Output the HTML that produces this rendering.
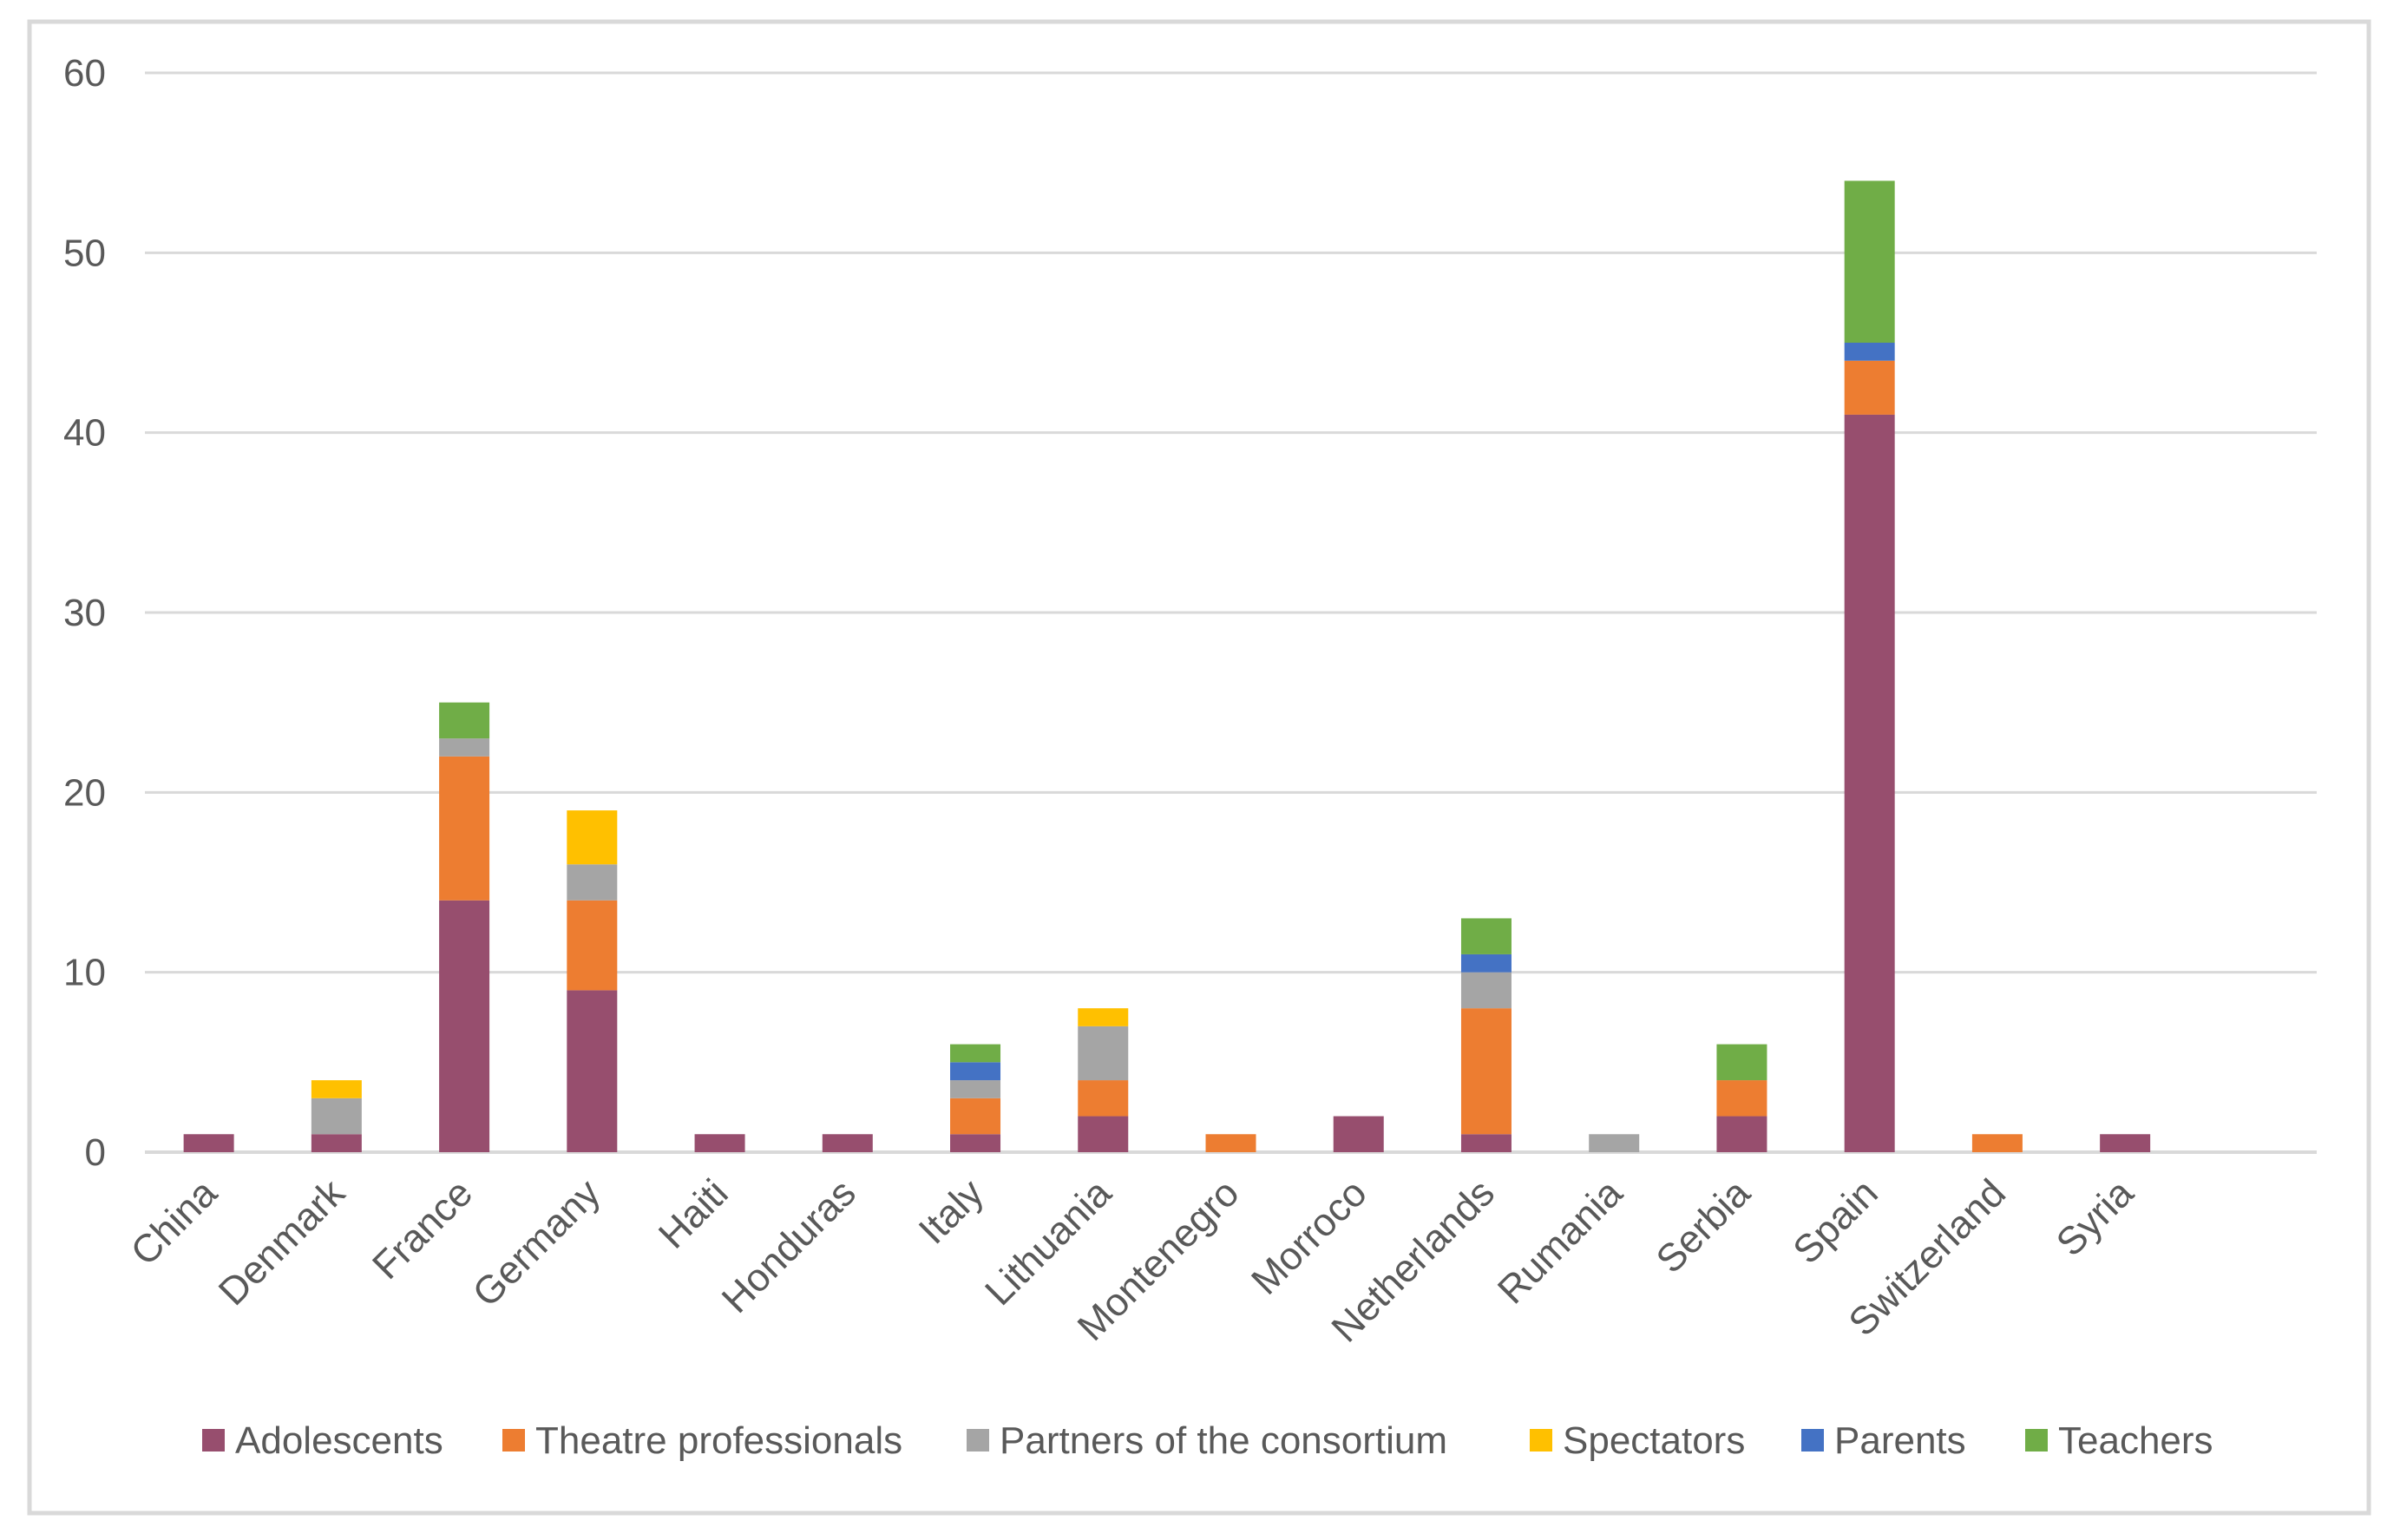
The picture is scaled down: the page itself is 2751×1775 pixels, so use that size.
<!DOCTYPE html>
<html><head><meta charset="utf-8"><style>
body{margin:0;background:#fff;}
svg text{font-family:"Liberation Sans",sans-serif;fill:#595959;}
</style></head><body>
<svg width="2751" height="1770" xmlns="http://www.w3.org/2000/svg">
<rect x="34" y="25" width="2696" height="1719" fill="#fff" stroke="#d9d9d9" stroke-width="5"/>
<g id="grid"></g><g id="bars"></g><g id="xlabels"></g><g id="legend"></g>
</svg>
<script>
const categories=["China","Denmark","France","Germany","Haiti","Honduras","Italy","Lithuania","Montenegro","Morroco","Netherlands","Rumania","Serbia","Spain","Switzerland","Syria"];
const seriesNames=["Adolescents","Theatre professionals","Partners of the consortium","Spectators","Parents","Teachers"];
const adolescents=[1,1,14,9,1,1,1,2,0,2,1,0,2,41,0,1];
const theatre=[0,0,8,5,0,0,2,2,1,0,7,0,2,3,1,0];
const partners=[0,2,1,2,0,0,1,3,0,0,2,1,0,0,0,0];
const spectators=[0,1,0,3,0,0,0,1,0,0,0,0,0,0,0,0];
const parents=[0,0,0,0,0,0,1,0,0,0,1,0,0,1,0,0];
const teachers=[0,0,2,0,0,0,1,0,0,0,2,0,2,9,0,0];
const yTicks=[0,10,20,30,40,50,60];
const colors=["#974e6e","#ed7d31","#a5a5a5","#ffc000","#4472c4","#70ad47"];
const series=[adolescents,theatre,partners,spectators,parents,teachers];
const NS="http://www.w3.org/2000/svg";
const x0=167,x1=2670,y0=1328,yTop=84,slots=17,bw=58;
const slot=(x1-x0)/slots;
const yS=v=>y0-(v/60)*(y0-yTop);
const xC=i=>x0+slot*(i+0.5);
function mk(tag,attrs,parent){const e=document.createElementNS(NS,tag);for(const k in attrs)e.setAttribute(k,attrs[k]);parent.appendChild(e);return e;}
const grid=document.getElementById('grid');
yTicks.forEach(t=>{
  const l=mk('line',{x1:x0,x2:x1,y1:yS(t),y2:yS(t),stroke:'#d9d9d9','stroke-width':t===0?4:3},grid);
  
  
  const tx=mk('text',{x:122,y:yS(t)+15,'text-anchor':'end','font-size':44},grid);
  tx.textContent=t;
  
  
});
const bars=document.getElementById('bars');
categories.forEach((c,i)=>{
  let cum=0;
  series.forEach((s,k)=>{
    const v=s[i]; if(!v) return;
    const r=mk('rect',{x:xC(i)-bw/2,y:yS(cum+v),width:bw,height:yS(cum)-yS(cum+v),fill:colors[k]},bars);
    
    
    cum+=v;
  });
  const t=mk('text',{x:xC(i)+12,y:1378,'text-anchor':'end','font-size':45,transform:`rotate(-45 ${xC(i)+12} 1378)`},document.getElementById('xlabels'));
  t.textContent=c;
  
  
});
const legendX=[233,579,1114,1763,2076,2334];
const lg=document.getElementById('legend');
seriesNames.forEach((n,k)=>{
  const g=mk('g',{},lg);
  
  
  mk('rect',{x:legendX[k],y:1647,width:26,height:26,fill:colors[k]},g);
  const t=mk('text',{x:legendX[k]+38,y:1675,'font-size':44},g);
  t.textContent=n;
});
</script>
</body></html>
